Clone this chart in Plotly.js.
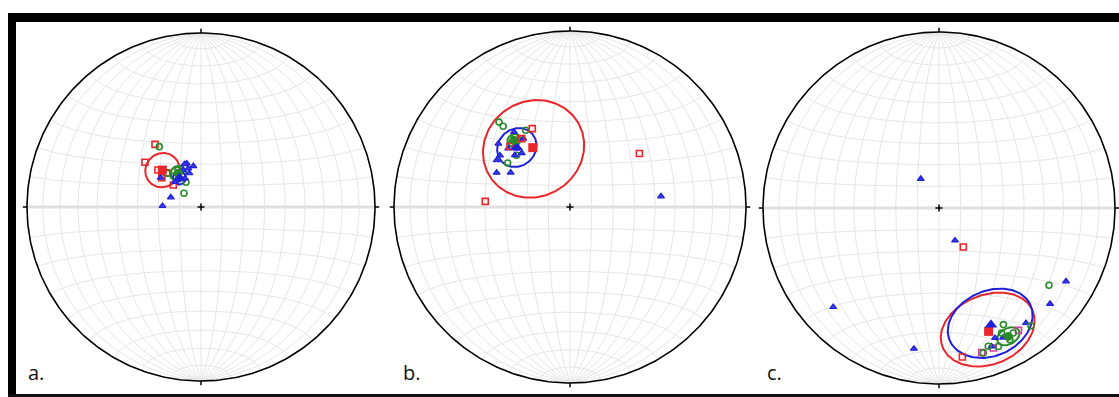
<!DOCTYPE html>
<html><head><meta charset="utf-8">
<script src="https://cdn.plot.ly/plotly-3.0.1.min.js"></script>
<style>html,body{margin:0;padding:0;background:#fff}#chart{width:1119px;height:397px}</style>
</head><body><div id="chart"></div>
<script>
// ---------- DATA (declination / inclination in degrees, lower hemisphere) ----------
const panelLabels = ["a.", "b.", "c."];

// Panel a
const redDecA   = [323.7, 308.6, 315.0, 306.7, 308.5, 310.7];
const redIncA   = [53.2, 56.1, 67.3, 67.1, 73.5, 63.3];
const greenDecA = [325.3, 315.3, 308.9, 328.7, 318.2, 328.1];
const greenIncA = [55.3, 67.8, 79.8, 76.5, 70.6, 69.6];
const blueDecA  = [341.9, 338.8, 349.4, 341.8, 340.9, 325.3, 318.7, 314.2, 330.9, 287.8, 271.5, 306.0, 334.1];
const blueIncA  = [68.5, 68.5, 70.5, 71.0, 73.3, 72.8, 73.3, 73.1, 74.7, 75.2, 72.0, 66.6, 70.8];
// means [dec, inc, a95]
const meanRedA   = [313.7, 64.9, 8];
const meanGreenA = [326.0, 71.0, 3.5];
const meanBlueA  = [323.2, 73.1, 3];

// Panel b
const redDecB   = [334.3, 52.4, 273.8, 324.8, 315.3];
const redIncB   = [49.1, 48.8, 50.1, 50.7, 49.9];
const greenDecB = [320.1, 320.4, 330.0, 305.2, 314.1, 319.6, 317.4, 321.8];
const greenIncB = [37.2, 40.2, 48.3, 54.3, 55.2, 48.8, 49.5, 48.0];
const blueDecB  = [302.5, 306.4, 311.5, 295.1, 300.1, 313.4, 317.6, 318.2, 313.2, 323.3, 83.3, 325.7];
const blueIncB  = [49.1, 49.1, 44.8, 52.0, 58.0, 50.0, 53.0, 56.2, 54.6, 45.8, 46.8, 51.1];
const meanRedB   = [327.9, 57.3, 23];
const meanGreenB = [320.0, 49.0, 3];
const meanBlueB  = [318.2, 52.5, 9];

// Panel c
const redDecC     = [148.1, 171.1];
const redIncC     = [68.7, 15.4];
const magentaDecC = [147.0, 158.8, 163.5];
const magentaIncC = [18.2, 15.8, 15.5];
const greenDecC   = [125.1, 142.0, 163.0, 156.8, 151.7, 151.1, 149.3, 160.4, 153.4];
const greenIncC   = [24.6, 16.2, 15.0, 15.5, 16.1, 25.3, 18.5, 17.7, 21.7];
const blueDecC    = [328.0, 153.7, 226.9, 190.1, 120.0, 130.8, 142.9, 156.7, 159.2, 153.7];
const blueIncC    = [74.1, 73.3, 18.8, 19.9, 17.8, 17.8, 19.2, 20.7, 17.0, 19.0];
const meanRedC   = [158.1, 25.4, 19];
const meanGreenC = [151.6, 18.2, 4.5];
const meanBlueC  = [156.0, 28.2, 17.5];

// ---------- helpers ----------
const W = 1119, H = 397;
const RAD = Math.PI / 180;
const COL = {red:'#e8262b', green:'#2a8a2a', blue:'#2020d8', magenta:'#d63aa0', grid:'#e6e6e6', eq:'#e0e0e0'};

function proj(dec, inc) {
  const th = (90 - inc) * RAD;
  const r = Math.SQRT2 * Math.sin(th / 2);
  const d = dec * RAD;
  return [r * Math.sin(d), r * Math.cos(d)];
}
function projArr(decs, incs) {
  const xs = [], ys = [];
  decs.forEach((d, i) => { const p = proj(d, incs[i]); xs.push(p[0]); ys.push(p[1]); });
  return [xs, ys];
}
function laea(phi, lam) {
  const c = Math.cos(phi * RAD), s = Math.sin(phi * RAD);
  const k = Math.sqrt(2 / (1 + c * Math.cos(lam * RAD)));
  return [k * c * Math.sin(lam * RAD) / Math.SQRT2, k * s / Math.SQRT2];
}
function gridLines() {
  const xs = [], ys = [];
  for (let lam = -80; lam <= 80; lam += 10) {
    for (let phi = -90; phi <= 90; phi += 1) { const p = laea(phi, lam); xs.push(p[0]); ys.push(p[1]); }
    xs.push(null); ys.push(null);
  }
  for (let phi = -80; phi <= 80; phi += 10) {
    if (phi === 0) continue;
    for (let lam = -90; lam <= 90; lam += 1) { const p = laea(phi, lam); xs.push(p[0]); ys.push(p[1]); }
    xs.push(null); ys.push(null);
  }
  return [xs, ys];
}
function cone(mean) {
  const D = mean[0] * RAD, I = mean[1] * RAD, a = mean[2] * RAD;
  const m = [Math.cos(I) * Math.cos(D), Math.cos(I) * Math.sin(D), Math.sin(I)];
  const u = [-Math.sin(D), Math.cos(D), 0];
  const v = [m[1]*u[2]-m[2]*u[1], m[2]*u[0]-m[0]*u[2], m[0]*u[1]-m[1]*u[0]];
  const xs = [], ys = [];
  for (let t = 0; t <= 360; t += 2) {
    const tt = t * RAD;
    const p = [0,1,2].map(i => Math.cos(a)*m[i] + Math.sin(a)*(Math.cos(tt)*u[i] + Math.sin(tt)*v[i]));
    const dd = Math.atan2(p[1], p[0]) / RAD, ii = Math.asin(p[2]) / RAD;
    const q = proj(dd, ii); xs.push(q[0]); ys.push(q[1]);
  }
  return [xs, ys];
}

const panels = [
  {cx:201, cy:207, R:174, series:[
    ['red', redDecA, redIncA, 'square-open'],
    ['green', greenDecA, greenIncA, 'circle-open'],
    ['blue', blueDecA, blueIncA, 'triangle-up']],
   means:[['red', meanRedA, 'square'], ['green', meanGreenA, 'circle'], ['blue', meanBlueA, 'triangle-up']]},
  {cx:570, cy:207, R:176, series:[
    ['green', greenDecB, greenIncB, 'circle-open'],
    ['blue', blueDecB, blueIncB, 'triangle-up'],
    ['red', redDecB, redIncB, 'square-open']],
   means:[['red', meanRedB, 'square'], ['blue', meanBlueB, 'triangle-up'], ['green', meanGreenB, 'circle']]},
  {cx:939, cy:208, R:176, series:[
    ['red', redDecC, redIncC, 'square-open'],
    ['magenta', magentaDecC, magentaIncC, 'square-open'],
    ['blue', blueDecC, blueIncC, 'triangle-up'],
    ['green', greenDecC, greenIncC, 'circle-open']],
   means:[['red', meanRedC, 'square'], ['blue', meanBlueC, 'triangle-up'], ['green', meanGreenC, 'circle']]}
];

const traces = [];
const layout = {
  width: W, height: H, margin:{l:0,r:0,t:0,b:0},
  paper_bgcolor:'#ffffff', plot_bgcolor:'rgba(0,0,0,0)', showlegend:false,
  shapes: [
    {type:'rect', xref:'paper', yref:'paper', x0:8/W, x1:1, y0:1-22/H, y1:1-13/H, fillcolor:'#000', line:{width:0}},
    {type:'rect', xref:'paper', yref:'paper', x0:8/W, x1:16/W, y0:0, y1:1-13/H, fillcolor:'#000', line:{width:0}},
    {type:'rect', xref:'paper', yref:'paper', x0:8/W, x1:1, y0:0, y1:3/H, fillcolor:'#111', line:{width:0}}
  ],
  annotations: []
};
const labelX = [26, 401, 765];

panels.forEach((p, i) => {
  const sfx = i ? String(i + 1) : '';
  const xa = 'x' + sfx, ya = 'y' + sfx;
  const k = 1.045;
  const x0 = Math.max(0, p.cx - p.R * k), x1 = Math.min(W, p.cx + p.R * k);
  const y0 = p.cy - p.R * k, y1 = p.cy + p.R * k;
  layout['xaxis' + sfx] = {domain:[x0 / W, x1 / W], range:[(x0 - p.cx) / p.R, (x1 - p.cx) / p.R],
    visible:false, fixedrange:true, anchor:ya};
  layout['yaxis' + sfx] = {domain:[1 - y1 / H, 1 - y0 / H], range:[-(y1 - p.cy) / p.R, (p.cy - y0) / p.R],
    visible:false, fixedrange:true, anchor:xa};

  const g = gridLines();
  traces.push({x:g[0], y:g[1], xaxis:xa, yaxis:ya, mode:'lines', line:{color:COL.grid, width:1}, hoverinfo:'skip'});
  traces.push({x:[-1, 1], y:[0, 0], xaxis:xa, yaxis:ya, mode:'lines', line:{color:COL.eq, width:3}, hoverinfo:'skip'});
  const cxs = [], cys = [];
  for (let t = 0; t <= 360; t += 1) { cxs.push(Math.cos(t * RAD)); cys.push(Math.sin(t * RAD)); }
  traces.push({x:cxs, y:cys, xaxis:xa, yaxis:ya, mode:'lines', line:{color:'#000', width:1.6}, hoverinfo:'skip'});
  const tk = 0.024, cr = 0.02;
  traces.push({x:[0,0,null,0,0,null,1,1+tk,null,-1,-1-tk,null,-cr,cr,null,0,0],
               y:[1,1+tk,null,-1,-1-tk,null,0,0,null,0,0,null,0,0,null,-cr,cr],
               xaxis:xa, yaxis:ya, mode:'lines', line:{color:'#000', width:1.5}, hoverinfo:'skip', cliponaxis:false});

  p.means.forEach(m => {
    const c = cone(m[1]);
    traces.push({x:c[0], y:c[1], xaxis:xa, yaxis:ya, mode:'lines', line:{color:COL[m[0]], width:2}, hoverinfo:'skip'});
  });
  p.series.forEach(s => {
    const xy = projArr(s[1], s[2]);
    const isTri = s[3].indexOf('triangle') === 0;
    traces.push({x:xy[0], y:xy[1], xaxis:xa, yaxis:ya, mode:'markers', cliponaxis:false,
      marker:isTri ? {symbol:s[3], size:6, color:'#3a3ae6', line:{color:COL.blue, width:1.2}}
                   : {symbol:s[3], size:6, color:COL[s[0]], line:{color:COL[s[0]], width:1.6}}});
  });
  p.means.forEach(m => {
    const xy = proj(m[1][0], m[1][1]);
    traces.push({x:[xy[0]], y:[xy[1]], xaxis:xa, yaxis:ya, mode:'markers', cliponaxis:false,
      marker:{symbol:m[2], size:m[2] === 'triangle-up' ? 11 : 9, color:COL[m[0]], line:{width:0}}});
  });

  layout.annotations.push({text:panelLabels[i], xref:'paper', yref:'paper', x:labelX[i] / W, y:1 - 388 / H,
    xanchor:'left', yanchor:'bottom', showarrow:false, font:{family:'Open Sans, Liberation Sans, sans-serif', size:20, color:'#111'}});
});

Plotly.newPlot('chart', traces, layout, {staticPlot:true, displayModeBar:false});
</script>
</body></html>
